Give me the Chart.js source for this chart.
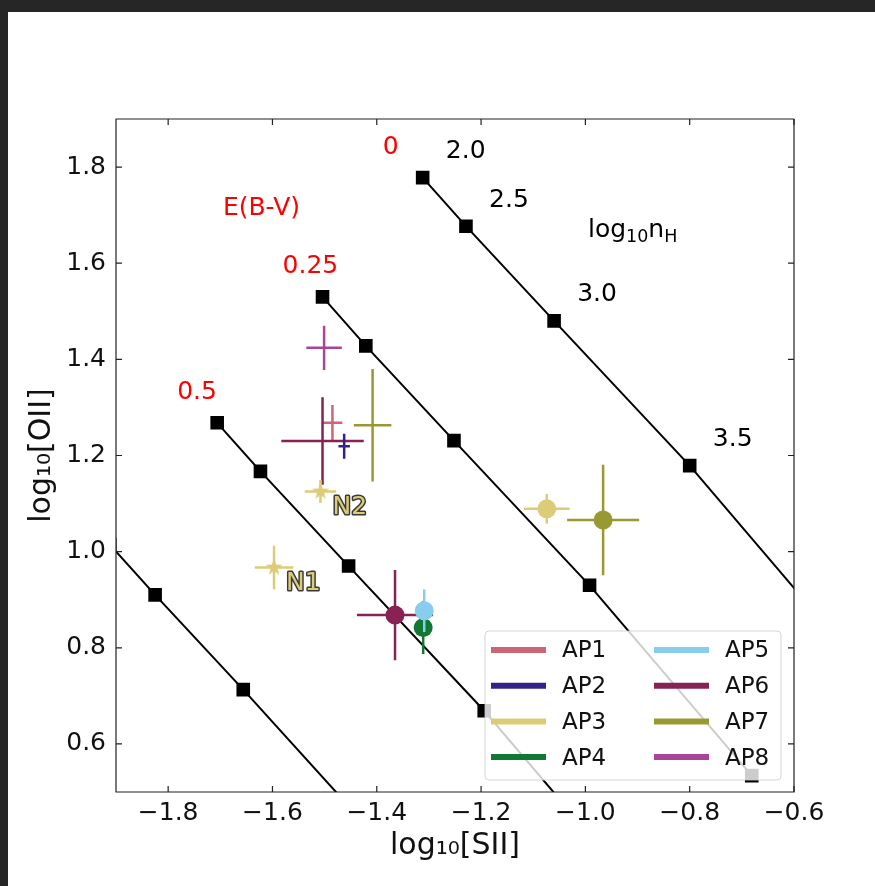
<!DOCTYPE html>
<html>
<head>
<meta charset="utf-8">
<script src="https://cdn.jsdelivr.net/npm/chart.js@4.4.0/dist/chart.umd.min.js"></script>
<style>
  html, body { margin: 0; padding: 0; background: #262626; }
  #wrap { position: absolute; left: 8px; top: 12px; width: 867px; height: 874px; background: #fff; }
</style>
</head>
<body>
<div id="wrap"><canvas id="ratioChart" width="867" height="874"></canvas></div>
<script>
// model grid: one line per E(B-V), one square per log10 nH
const ebvValues = [0, 0.25, 0.5, 0.75];
const nhValues = [2.0, 2.5, 3.0, 3.5, 4.0];
const gridSII = [
  [-1.312, -1.229, -1.060, -0.800, -0.489],
  [-1.504, -1.421, -1.252, -0.992, -0.681],
  [-1.706, -1.623, -1.454, -1.194, -0.883],
  [-1.912, -1.825, -1.656, -1.403, -1.090]
];
const gridOII = [
  [1.778, 1.677, 1.480, 1.179, 0.783],
  [1.530, 1.428, 1.231, 0.930, 0.534],
  [1.268, 1.167, 0.970, 0.669, 0.273],
  [1.015, 0.910, 0.713, 0.410, 0.010]
];

const xTicks = [-1.8, -1.6, -1.4, -1.2, -1.0, -0.8, -0.6];
const yTicks = [0.6, 0.8, 1.0, 1.2, 1.4, 1.6, 1.8];

const apNames = ['AP1', 'AP2', 'AP3', 'AP4', 'AP5', 'AP6', 'AP7', 'AP8'];
const apColors = ['#cc6677', '#332288', '#ddcc77', '#117733', '#88ccee', '#882255', '#999933', '#aa4499'];

// apertures, error bars only
const crossAP = ['AP8', 'AP1', 'AP6', 'AP7', 'AP2'];
const crossSII = [-1.501, -1.485, -1.504, -1.408, -1.4625];
const crossOII = [1.424, 1.268, 1.230, 1.263, 1.219];
const crossSIIerr = [0.034, 0.019, 0.079, 0.036, 0.011];
const crossOIIerr = [0.046, 0.037, 0.091, 0.117, 0.026];

// nuclei (AP3 colour, star)
const nucName = ['N1', 'N2'];
const nucSII = [-1.597, -1.508];
const nucOII = [0.967, 1.125];
const nucSIIerr = [0.037, 0.030];
const nucOIIerr = [0.045, 0.024];

// apertures, filled circles
const dotAP = ['AP3', 'AP7', 'AP6', 'AP4', 'AP5'];
const dotSII = [-1.074, -0.966, -1.365, -1.311, -1.309];
const dotOII = [1.089, 1.066, 0.868, 0.842, 0.877];
const dotSIIerr = [0.044, 0.069, 0.073, 0.006, 0.006];
const dotOIIerr = [0.031, 0.115, 0.094, 0.055, 0.044];

// where the two group titles sit (data coords)
const ebvTitleAt = [-1.695, 1.713];
const nhTitleAt = [-0.995, 1.654];

const FONT = 'DejaVu Sans';
Chart.defaults.font.family = FONT;
Chart.defaults.color = '#111';

const colorOf = ap => apColors[apNames.indexOf(ap)];
const fmt = v => (v < 0 ? '\u2212' : '') + Math.abs(v).toFixed(1);

function starMarker(color, r) {
  const c = document.createElement('canvas');
  const s = Math.ceil(r * 2 + 2);
  c.width = s; c.height = s;
  const g = c.getContext('2d');
  g.translate(s / 2, s / 2);
  g.beginPath();
  for (let k = 0; k < 10; k++) {
    const rad = k % 2 ? r * 0.4 : r;
    const ang = -Math.PI / 2 + k * Math.PI / 5;
    g.lineTo(rad * Math.cos(ang), rad * Math.sin(ang));
  }
  g.closePath();
  g.fillStyle = color;
  g.fill();
  return c;
}

const datasets = [];
let z = 1000; // later pushes are drawn on top

gridSII.forEach((row, i) => {
  datasets.push({
    data: row.map((v, j) => ({x: v, y: gridOII[i][j]})),
    showLine: true,
    borderColor: '#000',
    backgroundColor: '#000',
    borderWidth: 2,
    pointStyle: 'rect',
    pointRadius: 8.2,
    pointHoverRadius: 8.2,
    order: z--
  });
});

function addPoints(names, sii, oii, siiErr, oiiErr, marker) {
  names.forEach((name, i) => {
    const color = marker === 'star' ? colorOf('AP3') : colorOf(name);
    datasets.push({
      data: [
        {x: sii[i] - siiErr[i], y: oii[i]}, {x: sii[i] + siiErr[i], y: oii[i]},
        {x: null, y: null},
        {x: sii[i], y: oii[i] - oiiErr[i]}, {x: sii[i], y: oii[i] + oiiErr[i]}
      ],
      showLine: true,
      spanGaps: false,
      borderColor: color,
      borderWidth: 2.5,
      pointRadius: 0,
      pointHoverRadius: 0,
      order: z--
    });
    if (marker === 'circle') {
      datasets.push({
        data: [{x: sii[i], y: oii[i]}],
        pointStyle: 'circle',
        pointRadius: 9.5,
        pointHoverRadius: 9.5,
        backgroundColor: color,
        borderWidth: 0,
        order: z--
      });
    } else if (marker === 'star') {
      datasets.push({
        data: [{x: sii[i], y: oii[i]}],
        pointStyle: starMarker(color, 9),
        pointRadius: 9,
        order: z--
      });
    }
  });
}

addPoints(crossAP, crossSII, crossOII, crossSIIerr, crossOIIerr, null);
addPoints(nucName, nucSII, nucOII, nucSIIerr, nucOIIerr, 'star');
addPoints(dotAP, dotSII, dotOII, dotSIIerr, dotOIIerr, 'circle');

// texts, frame, inward ticks
const decorations = {
  id: 'decorations',
  afterDatasetsDraw(chart) {
    const {ctx, chartArea: a, scales: {x, y}} = chart;
    const px = v => x.getPixelForValue(v);
    const py = v => y.getPixelForValue(v);
    ctx.save();
    ctx.font = '25px "' + FONT + '"';
    ctx.textBaseline = 'middle';

    ctx.fillStyle = '#ff0000';
    ctx.textAlign = 'left';
    ebvValues.forEach((e, i) => {
      const mx = px(gridSII[i][0]);
      if (mx < a.left) return;
      ctx.fillText(String(e), mx - 40, py(gridOII[i][0]) - 30);
    });
    ctx.fillText('E(B-V)', px(ebvTitleAt[0]), py(ebvTitleAt[1]));

    ctx.fillStyle = '#000';
    ctx.textAlign = 'center';
    nhValues.forEach((n, j) => {
      const mx = px(gridSII[0][j]);
      if (mx > a.right) return;
      ctx.fillText(n.toFixed(1), mx + 43, py(gridOII[0][j]) - 26);
    });

    // log10 nH with subscripts
    ctx.textAlign = 'left';
    ctx.textBaseline = 'alphabetic';
    let tx = px(nhTitleAt[0]);
    const ty = py(nhTitleAt[1]);
    const parts = [['log', 25, 0], ['10', 17.5, 5], ['n', 25, 0], ['H', 17.5, 5]];
    parts.forEach(([t, size, drop]) => {
      ctx.font = size + 'px "' + FONT + '"';
      ctx.fillText(t, tx, ty + drop);
      tx += ctx.measureText(t).width;
    });

    // nucleus labels, outlined
    ctx.font = '25px "' + FONT + '"';
    ctx.textBaseline = 'middle';
    ctx.lineJoin = 'round';
    nucName.forEach((name, i) => {
      const lx = px(nucSII[i]) + 12, ly = py(nucOII[i]) + 16;
      ctx.lineWidth = 3;
      ctx.strokeStyle = '#3a3a3a';
      ctx.strokeText(name, lx, ly);
      ctx.fillStyle = colorOf('AP3');
      ctx.fillText(name, lx, ly);
    });

    // frame and inward ticks on all sides
    ctx.strokeStyle = '#222';
    ctx.lineWidth = 1.2;
    ctx.strokeRect(a.left, a.top, a.right - a.left, a.bottom - a.top);
    ctx.beginPath();
    xTicks.forEach(v => {
      const p = px(v);
      ctx.moveTo(p, a.bottom); ctx.lineTo(p, a.bottom - 6);
      ctx.moveTo(p, a.top); ctx.lineTo(p, a.top + 6);
    });
    yTicks.forEach(v => {
      const p = py(v);
      ctx.moveTo(a.left, p); ctx.lineTo(a.left + 6, p);
      ctx.moveTo(a.right, p); ctx.lineTo(a.right - 6, p);
    });
    ctx.stroke();
    ctx.restore();
  }
};

// two-column legend, lower right
const apLegend = {
  id: 'apLegend',
  afterDraw(chart) {
    const {ctx, chartArea: a} = chart;
    const w = 296, h = 149;
    const left = a.right - 13 - w, top = a.bottom - 12 - h;
    ctx.save();
    ctx.beginPath();
    ctx.roundRect(left, top, w, h, 4);
    ctx.fillStyle = 'rgba(255,255,255,0.8)';
    ctx.fill();
    ctx.strokeStyle = 'rgba(204,204,204,0.8)';
    ctx.lineWidth = 1;
    ctx.stroke();
    ctx.font = '23px "' + FONT + '"';
    ctx.textBaseline = 'middle';
    ctx.textAlign = 'left';
    apNames.forEach((name, i) => {
      const col = Math.floor(i / 4), row = i % 4;
      const cx = left + (col ? 169 : 6);
      const cy = top + 19 + row * 35.7;
      ctx.strokeStyle = apColors[i];
      ctx.lineWidth = 6;
      ctx.beginPath();
      ctx.moveTo(cx, cy); ctx.lineTo(cx + 55, cy);
      ctx.stroke();
      ctx.fillStyle = '#111';
      ctx.fillText(name, cx + 71, cy + 1.5);
    });
    ctx.restore();
  }
};

new Chart(document.getElementById('ratioChart'), {
  type: 'scatter',
  data: { datasets },
  options: {
    responsive: false,
    animation: false,
    events: [],
    layout: { padding: { left: 0, top: 107, right: 81, bottom: 0 } },
    plugins: { legend: { display: false }, tooltip: { enabled: false } },
    scales: {
      x: {
        type: 'linear',
        min: -1.9,
        max: -0.6,
        afterBuildTicks: s => { s.ticks = xTicks.map(v => ({value: v})); },
        afterFit: s => { s.height = 94; },
        grid: { display: false, drawTicks: false },
        border: { display: false },
        ticks: { padding: 6, maxRotation: 0, autoSkip: false, font: { size: 25 }, callback: v => fmt(v) },
        title: { display: true, text: 'log\u2081\u2080[SII]', font: { size: 30 }, padding: { top: 0, bottom: 22 } }
      },
      y: {
        type: 'linear',
        min: 0.5,
        max: 1.9,
        afterBuildTicks: s => { s.ticks = yTicks.map(v => ({value: v})); },
        afterFit: s => { s.width = 108; },
        grid: { display: false, drawTicks: false },
        border: { display: false },
        ticks: { padding: 10, autoSkip: false, font: { size: 25 }, callback: v => fmt(v) },
        title: { display: true, text: 'log\u2081\u2080[OII]', font: { size: 30 }, padding: { top: 16, bottom: 0 } }
      }
    }
  },
  plugins: [decorations, apLegend]
});
</script>
</body>
</html>
